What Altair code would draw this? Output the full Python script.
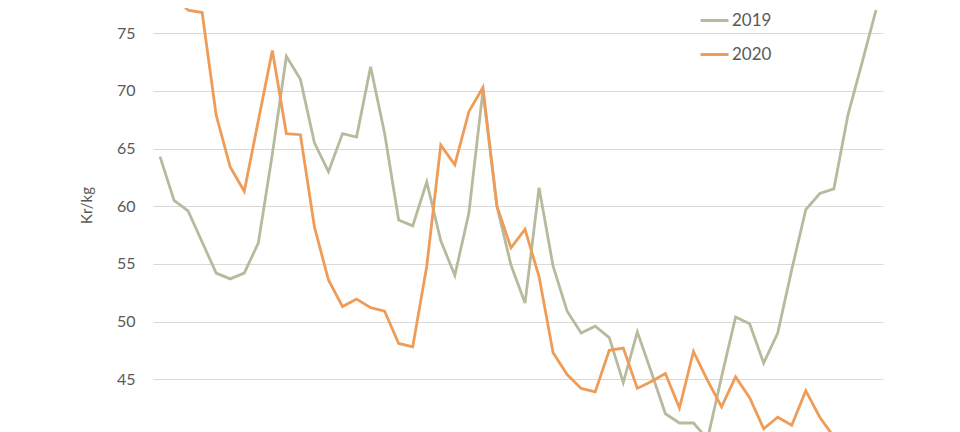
import altair as alt
import pandas as pd

weeks = list(range(1, 53))
years = ["2019", "2020"]
v2019 = [64.3, 60.5, 59.6, 56.9, 54.2, 53.7, 54.2, 56.8, 64.5, 73.0,
         71.0, 65.5, 63.0, 66.3, 66.0, 72.1, 66.3, 58.8, 58.3, 62.1,
         57.0, 54.0, 59.4, 70.0, 60.0, 54.9, 51.6, 61.6, 54.8, 50.9,
         49.0, 49.6, 48.6, 44.7, 49.1, 45.6, 42.0, 41.2, 41.2, 39.8,
         45.2, 50.4, 49.8, 46.4, 49.0, 54.5, 59.7, 61.1, 61.5, 67.9,
         72.4, 77.0]
v2020 = [79.0, 78.2, 77.0, 76.8, 67.9, 63.4, 61.3, 67.4, 73.5, 66.3,
         66.2, 58.2, 53.6, 51.3, 51.95, 51.2, 50.9, 48.1, 47.8, 54.8,
         65.3, 63.6, 68.2, 70.3, 60.0, 56.4, 58.0, 53.9, 47.3, 45.4,
         44.2, 43.9, 47.5, 47.7, 44.2, 44.8, 45.5, 42.5, 47.4, 44.9,
         42.6, 45.2, 43.4, 40.7, 41.7, 41.0, 44.0, 41.7, 40.0]
y_ticks = [45, 50, 55, 60, 65, 70, 75]

rows = []
for w, v in zip(weeks, v2019):
    rows.append({"uke": w, "år": "2019", "pris": v})
for w, v in zip(weeks, v2020):
    rows.append({"uke": w, "år": "2020", "pris": v})
df = pd.DataFrame(rows)

font = "Lato"
grey = "#595959"

chart = alt.Chart(df).mark_line(strokeWidth=2.8, clip=True).encode(
    x=alt.X("uke:Q", axis=None,
            scale=alt.Scale(domain=[0.5, 52.5], nice=False, zero=False)),
    y=alt.Y("pris:Q",
            scale=alt.Scale(domain=[40.42, 77.19], nice=False, zero=False),
            axis=alt.Axis(values=y_ticks, title="Kr/kg", ticks=False, domain=False,
                          grid=True, gridColor="#D9D9D9", gridWidth=1,
                          labelFont=font, labelFontSize=16, labelColor=grey,
                          labelPadding=18,
                          titleFont=font, titleFontSize=15, titleColor=grey,
                          titleFontWeight="normal", titleAngle=270,
                          titleX=-67, titleY=197, titleAlign="center",
                          titleBaseline="middle")),
    color=alt.Color("år:N",
                    scale=alt.Scale(domain=years, range=["#B7BA9D", "#EE9C58"]),
                    legend=alt.Legend(title=None, orient="none", legendX=546, legendY=-3,
                                      symbolType="stroke", symbolSize=784,
                                      symbolStrokeWidth=3, rowPadding=10,
                                      labelFont=font, labelFontSize=17,
                                      labelColor=grey, labelOffset=2, padding=0)),
    order=alt.Order("uke:Q"),
).properties(
    width=730, height=424,
    background="white",
    autosize=alt.AutoSizeParams(type="none"),
    padding={"left": 145, "top": 0, "right": 69, "bottom": 0},
).configure_view(stroke=None)

chart.save("out.html", embed_options={"renderer": "svg", "actions": False})
